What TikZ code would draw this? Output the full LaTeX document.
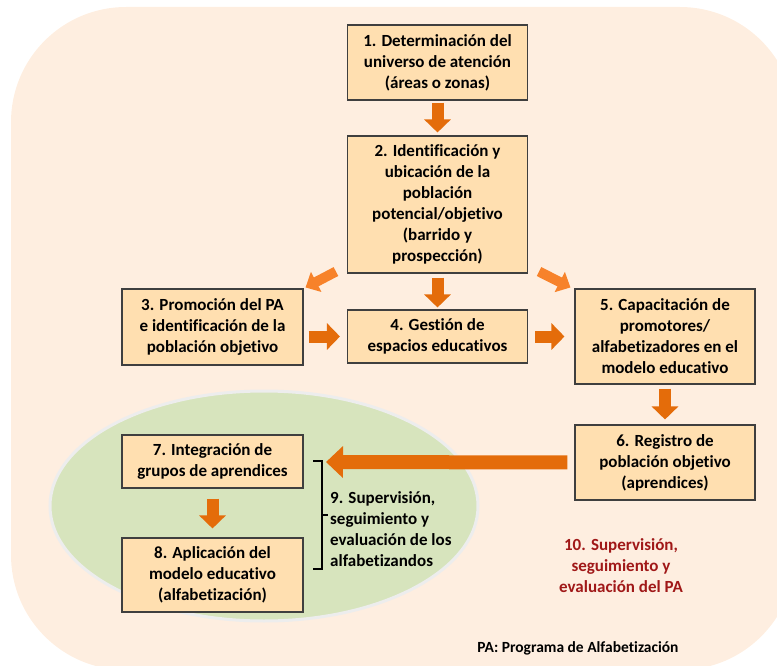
\documentclass[tikz,border=0pt]{standalone}
\usepackage{fontspec}
\setmainfont{Carlito}[Ligatures=NoCommon]
\usetikzlibrary{arrows.meta}
\definecolor{bgpeach}{HTML}{FEEEE0}
\definecolor{boxfill}{HTML}{FFDFB0}
\definecolor{boxline}{HTML}{3F3F3F}
\definecolor{arrowor}{HTML}{E46C0A}
\definecolor{diagor}{HTML}{F7822A}
\definecolor{ellfill}{HTML}{D7E4BD}
\definecolor{ellline}{HTML}{EDEDED}
\definecolor{darkred}{HTML}{A01818}
\begin{document}
\begin{tikzpicture}[x=1pt,y=-1pt,
  boxfont/.style={font=\bfseries\fontsize{17}{21}\selectfont},
  stepbox/.style={boxfont, draw=boxline, line width=1.1pt, fill=boxfill,
    minimum width=180pt, inner sep=0pt, align=center},
  blockarrow/.style={draw=arrowor, line width=12pt, line cap=butt,
    -{Triangle[width=26pt,length=13pt]}},
  bigarrow/.style={draw=arrowor, line width=14pt, line cap=butt,
    -{Triangle[width=31pt,length=17pt]}},
  diagarrow/.style={draw=diagor, line width=10pt, line cap=butt,
    -{Triangle[width=22pt,length=12pt]}},
  bracket/.style={draw=black, line width=1.6pt}]
\useasboundingbox (0,0) rectangle (777,666);
\begin{scope}
  \clip (0,0) rectangle (777,666);
  \fill[bgpeach, rounded corners=115pt] (11,7) rectangle (795,670);
\end{scope}
\draw[ellline, line width=3pt, fill=ellfill] (264,506) ellipse [x radius=214pt, y radius=115pt];

\node[stepbox, minimum height=75pt] (b1) at (437.5,62.5)
  {1. Determinación del\\universo de atención\\(áreas o zonas)};
\node[stepbox, minimum height=137pt] (b2) at (437.5,204.5)
  {2. Identificación y\\ubicación de la\\población\\potencial/objetivo\\(barrido y\\prospección)};
\node[stepbox, minimum width=181pt, minimum height=76pt] (b3) at (212.5,327)
  {3. Promoción del PA\\e identificación de la\\población objetivo};
\node[stepbox, minimum height=53pt] (b4) at (437.5,336.5)
  {4. Gestión de\\espacios educativos};
\node[stepbox, minimum height=95pt] (b5) at (665,336.5)
  {5. Capacitación de\\promotores/\\alfabetizadores en el\\modelo educativo};
\node[stepbox, minimum height=75pt] (b6) at (665,462.5)
  {6. Registro de\\población objetivo\\(aprendices)};
\node[stepbox, minimum width=181pt, minimum height=53pt] (b7) at (212.5,461.5)
  {7. Integración de\\grupos de aprendices};
\node[stepbox, minimum width=181pt, minimum height=74pt] (b8) at (212.5,575)
  {8. Aplicación del\\modelo educativo\\(alfabetización)};

\node[boxfont, anchor=west, align=left, inner sep=0pt] (t9) at (330,529)
  {9. Supervisión,\\seguimiento y\\evaluación de los\\alfabetizandos};
\node[boxfont, align=center, text=darkred, inner sep=0pt] (t10) at (621,566)
  {10. Supervisión,\\seguimiento y\\evaluación del PA};
\node[font=\bfseries\fontsize{15.5}{18}\selectfont, inner sep=0pt] (fn) at (578,648)
  {PA: Programa de Alfabetización};

% arrows
\draw[blockarrow, shorten <=2pt, shorten >=3pt] (b1) -- (b2);
\draw[blockarrow, shorten <=4pt, shorten >=2pt] (b2) -- (b4);
\draw[blockarrow, shorten <=5pt, shorten >=7pt] (b3.east |- b4.west) -- (b4.west);
\draw[blockarrow, shorten <=7pt, shorten >=10pt] (b4.east) -- (b5.west |- b4.east);
\draw[blockarrow, shorten <=4pt, shorten >=5pt] (b5) -- (b6);
\draw[blockarrow, shorten <=10pt, shorten >=9pt] (b7) -- (b8);
\draw[diagarrow] ([xshift=-11pt,yshift=2pt]b2.south west) -- ([xshift=2pt,yshift=1pt]b3.north east);
\draw[diagarrow] ([xshift=11pt,yshift=2pt]b2.south east) -- ([xshift=-4pt,yshift=1pt]b5.north west);
\coordinate (tip7) at (326,462);
\draw[bigarrow, shorten <=7pt] (b6.west) -- (tip7);

% bracket
\coordinate (brT) at (322,461);
\coordinate (brB) at (322,569);
\coordinate (brM) at (322,515);
\draw[bracket] ([xshift=-9pt]brT) -- (brT) -- (brB) -- ([xshift=-9pt]brB);
\draw[bracket] (brM) -- ([xshift=6pt]brM);
\end{tikzpicture}
\end{document}
